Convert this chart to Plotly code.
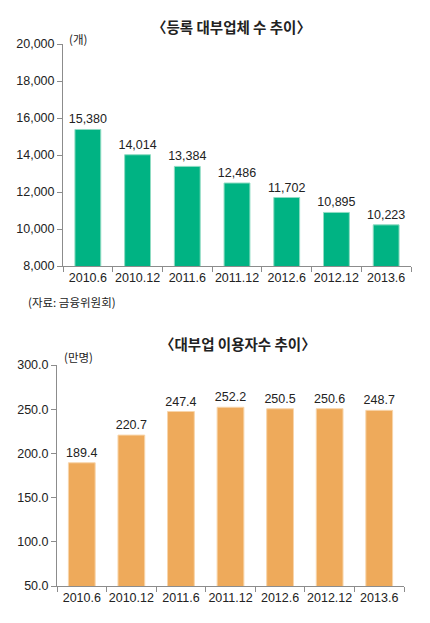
import plotly.graph_objects as go

PAGE_W, PAGE_H = 430, 623
OFF = 8  # default body margin of the html page
W, H = PAGE_W - 2 * OFF, PAGE_H - 2 * OFF

categories = ["2010.6", "2010.12", "2011.6", "2011.12", "2012.6", "2012.12", "2013.6"]
firms = [15380, 14014, 13384, 12486, 11702, 10895, 10223]
users = [189.4, 220.7, 247.4, 252.2, 250.5, 250.6, 248.7]

title_top = "〈등록 대부업체 수 추이〉"
title_bottom = "〈대부업 이용자수 추이〉"
unit_top = "(개)"
unit_bottom = "(만명)"
source = "(자료: 금융위원회)"

FONT = "Liberation Sans, Noto Sans CJK KR, sans-serif"
KFONT = "Noto Sans CJK KR, sans-serif"
TXT = "#222222"
AX = "#8c8c8c"

def px(x):
    return (x - OFF) / W

def py(y):
    return 1 - (y - OFF) / H

fig = go.Figure()
fig.add_trace(go.Bar(
    x=categories, y=firms, xaxis="x", yaxis="y",
    marker=dict(color="#00b383", line=dict(color="#8fdcc2", width=1)),
    width=0.52,
    text=[f"{v:,}" for v in firms], textposition="outside",
    textfont=dict(family=FONT, size=12.5, color=TXT),
    constraintext="none",
    cliponaxis=False, hoverinfo="skip",
))
fig.add_trace(go.Bar(
    x=categories, y=users, xaxis="x2", yaxis="y2",
    marker=dict(color="#eeaa5b", line=dict(color="#f8d5ab", width=1)),
    width=0.54,
    text=[f"{v:.1f}" for v in users], textposition="outside",
    textfont=dict(family=FONT, size=12.5, color=TXT),
    constraintext="none",
    cliponaxis=False, hoverinfo="skip",
))

xcommon = dict(type="category", showline=True, linecolor=AX, linewidth=1,
               ticks="outside", tickson="boundaries", ticklen=5, tickcolor=AX,
               showgrid=False, zeroline=False, tickangle=0, automargin=False,
               tickfont=dict(family=FONT, size=12.5, color=TXT))
ycommon = dict(showline=True, linecolor=AX, linewidth=1, ticks="outside",
               ticklen=5, tickcolor=AX, showgrid=False, zeroline=False,
               automargin=False,
               tickfont=dict(family=FONT, size=12.5, color=TXT))

fig.update_layout(
    width=W, height=H,
    margin=dict(l=0, r=0, t=0, b=0),
    paper_bgcolor="white", plot_bgcolor="white",
    showlegend=False,
    xaxis=dict(domain=[px(63), px(411)], anchor="y", **xcommon),
    yaxis=dict(domain=[py(266), py(44)], anchor="x", range=[8000, 20000],
               tickvals=list(range(8000, 20001, 2000)), tickformat=",d", **ycommon),
    xaxis2=dict(domain=[px(57), px(404)], anchor="y2", **xcommon),
    yaxis2=dict(domain=[py(586), py(365)], anchor="x2", range=[50, 300],
                tickvals=list(range(50, 301, 50)), tickformat=".1f", **ycommon),
    annotations=[
        dict(text=title_top, x=px(232), y=py(26), xref="paper", yref="paper",
             showarrow=False, font=dict(family=KFONT, size=14.5, color=TXT, weight=600),
             xanchor="center", yanchor="middle"),
        dict(text=title_bottom, x=px(238), y=py(343), xref="paper", yref="paper",
             showarrow=False, font=dict(family=KFONT, size=14.5, color=TXT, weight=600),
             xanchor="center", yanchor="middle"),
        dict(text=unit_top, x=px(67), y=py(39), xref="paper", yref="paper",
             showarrow=False, font=dict(family=KFONT, size=11.5, color=TXT),
             xanchor="left", yanchor="middle"),
        dict(text=unit_bottom, x=px(62), y=py(357), xref="paper", yref="paper",
             showarrow=False, font=dict(family=KFONT, size=11.5, color=TXT),
             xanchor="left", yanchor="middle"),
        dict(text=source, x=px(26), y=py(302), xref="paper", yref="paper",
             showarrow=False, font=dict(family=KFONT, size=11.5, color=TXT),
             xanchor="left", yanchor="middle"),
    ],
)

fig.write_html("out.html")
